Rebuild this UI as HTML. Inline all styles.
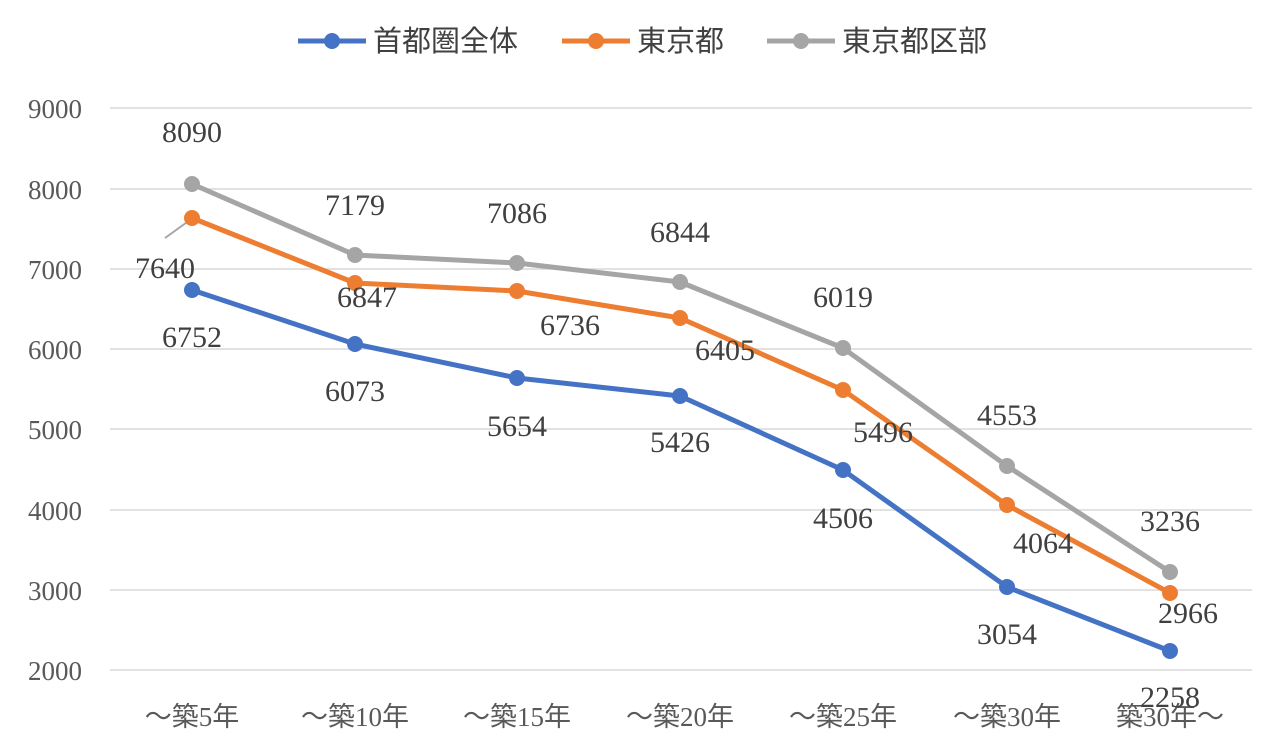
<!DOCTYPE html>
<html><head><meta charset="utf-8"><style>body{margin:0;background:#fff}svg{display:block}</style></head><body>
<svg width="1280" height="756" xmlns="http://www.w3.org/2000/svg" font-family="'Liberation Serif','Noto Serif CJK SC',serif">
<g stroke="#d9d9d9" stroke-width="1.5">
<line x1="110" x2="1252" y1="108" y2="108"/><line x1="110" x2="1252" y1="189" y2="189"/><line x1="110" x2="1252" y1="269" y2="269"/><line x1="110" x2="1252" y1="349" y2="349"/><line x1="110" x2="1252" y1="429" y2="429"/><line x1="110" x2="1252" y1="510" y2="510"/><line x1="110" x2="1252" y1="590" y2="590"/><line x1="110" x2="1252" y1="670" y2="670"/>
</g>
<g font-size="27" fill="#595959" text-anchor="end">
<text x="82" y="118">9000</text><text x="82" y="199">8000</text><text x="82" y="279">7000</text><text x="82" y="359">6000</text><text x="82" y="439">5000</text><text x="82" y="520">4000</text><text x="82" y="600">3000</text><text x="82" y="680">2000</text>
</g>
<g font-size="27" fill="#595959" text-anchor="middle" font-family="'Liberation Serif','Noto Sans CJK JP',serif">
<text x="192" y="726">～築5年</text><text x="355" y="726">～築10年</text><text x="517" y="726">～築15年</text><text x="680" y="726">～築20年</text><text x="843" y="726">～築25年</text><text x="1007" y="726">～築30年</text><text x="1170" y="726">築30年～</text>
</g>
<line x1="165" y1="238" x2="190" y2="220" stroke="#a5a5a5" stroke-width="2"/>
<g fill="none" stroke-width="5" stroke-linejoin="round">
<polyline stroke="#a5a5a5" points="192,184 355,255 517,263 680,282 843,348 1007,466 1170,572"/>
<polyline stroke="#ed7d31" points="192,218 355,283 517,291 680,318 843,390 1007,505 1170,593"/>
<polyline stroke="#4472c4" points="192,290 355,344 517,378 680,396 843,470 1007,587 1170,651"/>
</g>
<g fill="#a5a5a5"><circle cx="192" cy="184" r="8"/><circle cx="355" cy="255" r="8"/><circle cx="517" cy="263" r="8"/><circle cx="680" cy="282" r="8"/><circle cx="843" cy="348" r="8"/><circle cx="1007" cy="466" r="8"/><circle cx="1170" cy="572" r="8"/></g>
<g fill="#ed7d31"><circle cx="192" cy="218" r="8"/><circle cx="355" cy="283" r="8"/><circle cx="517" cy="291" r="8"/><circle cx="680" cy="318" r="8"/><circle cx="843" cy="390" r="8"/><circle cx="1007" cy="505" r="8"/><circle cx="1170" cy="593" r="8"/></g>
<g fill="#4472c4"><circle cx="192" cy="290" r="8"/><circle cx="355" cy="344" r="8"/><circle cx="517" cy="378" r="8"/><circle cx="680" cy="396" r="8"/><circle cx="843" cy="470" r="8"/><circle cx="1007" cy="587" r="8"/><circle cx="1170" cy="651" r="8"/></g>
<g font-size="30" fill="#404040" text-anchor="middle">
<text x="192" y="347">6752</text><text x="355" y="401">6073</text><text x="517" y="436">5654</text><text x="680" y="452">5426</text><text x="843" y="528">4506</text><text x="1007" y="644">3054</text><text x="1170" y="707">2258</text>
<text x="165" y="278">7640</text><text x="367" y="307">6847</text><text x="570" y="335">6736</text><text x="725" y="360">6405</text><text x="883" y="442">5496</text><text x="1043" y="553">4064</text><text x="1188" y="623">2966</text>
<text x="192" y="142">8090</text><text x="355" y="215">7179</text><text x="517" y="223">7086</text><text x="680" y="242">6844</text><text x="843" y="307">6019</text><text x="1007" y="425">4553</text><text x="1170" y="531">3236</text>
</g>
<g font-size="29" fill="#404040" font-family="'Liberation Sans','Noto Sans CJK JP',sans-serif">
<line x1="298" x2="366" y1="41" y2="41" stroke="#4472c4" stroke-width="5"/><circle cx="332" cy="41" r="8" fill="#4472c4"/><text x="373" y="51">首都圏全体</text>
<line x1="562" x2="630" y1="41" y2="41" stroke="#ed7d31" stroke-width="5"/><circle cx="596" cy="41" r="8" fill="#ed7d31"/><text x="637" y="51">東京都</text>
<line x1="767" x2="835" y1="41" y2="41" stroke="#a5a5a5" stroke-width="5"/><circle cx="801" cy="41" r="8" fill="#a5a5a5"/><text x="842" y="51">東京都区部</text>
</g>
</svg>
</body></html>
